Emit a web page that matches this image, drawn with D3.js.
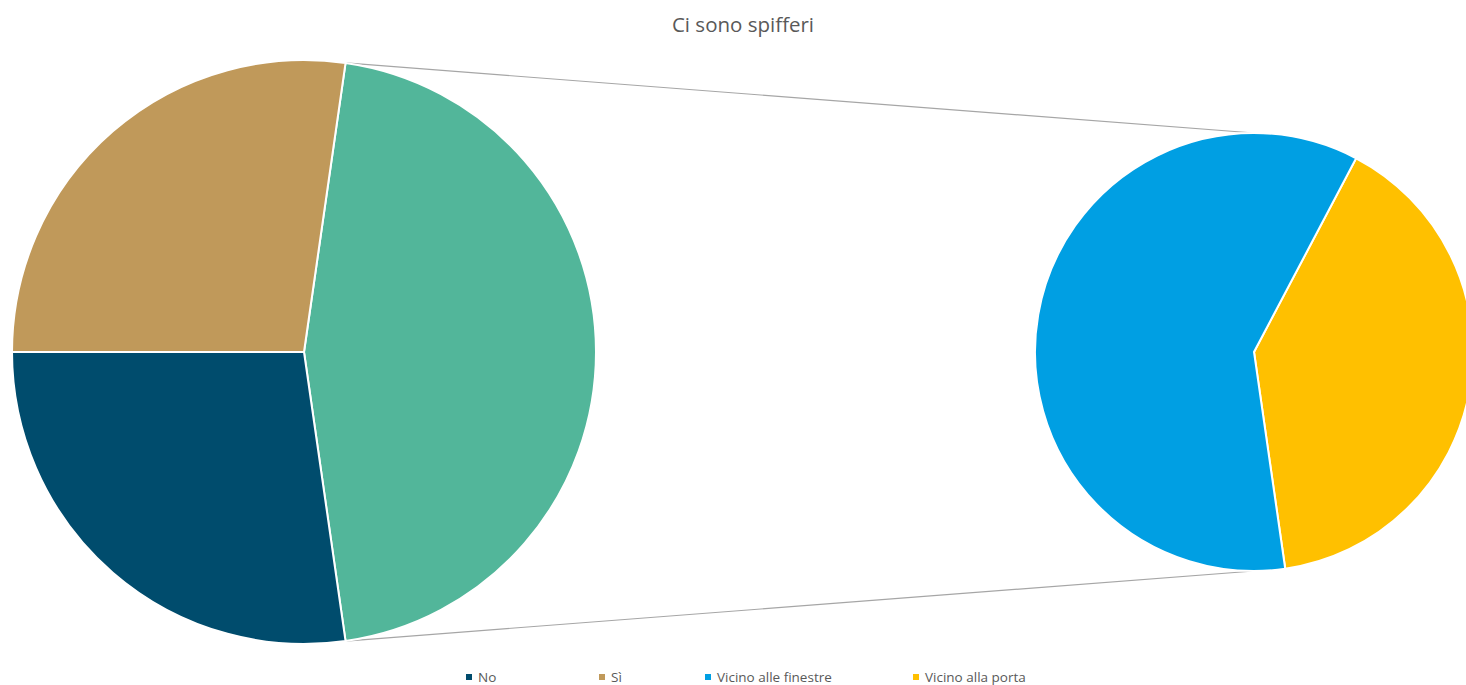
<!DOCTYPE html>
<html>
<head>
<meta charset="utf-8">
<script src="https://cdn.jsdelivr.net/npm/d3@7"></script>
<style>
  body { margin: 0; background: #fff; }
  svg { display: block; }
</style>
</head>
<body>
<div id="chart"></div>
<script>
const mainLabels = ['Altro', 'No', 'Sì']
const mainValues = [5, 3, 3]
const subLabels = ['Vicino alla porta', 'Vicino alle finestre']
const subValues = [2, 3]
const legendLabels = ['No', 'Sì', 'Vicino alle finestre', 'Vicino alla porta']

const colors = {
  'Altro': '#52b69a',
  'No': '#004c6d',
  'Sì': '#c0995a',
  'Vicino alle finestre': '#009fe3',
  'Vicino alla porta': '#ffc000'
}

const width = 1466
const height = 685

const svg = d3.select('#chart').append('svg')
  .attr('width', width)
  .attr('height', height)

// title
svg.append('text')
  .attr('x', 743)
  .attr('y', 32)
  .attr('text-anchor', 'middle')
  .style('font-family', 'Open Sans, sans-serif')
  .style('font-size', '20.5px')
  .style('fill', '#595959')
  .text('Ci sono spifferi')

// main pie: "Altro" slice centred on the right
const main = {cx: 304, cy: 352, r: 292}
const otherSpan = mainValues[0] / d3.sum(mainValues) * 2 * Math.PI
const mainStart = Math.PI / 2 - otherSpan / 2
const mainPie = d3.pie().sort(null)
  .startAngle(mainStart)
  .endAngle(mainStart + 2 * Math.PI)
const mainArcs = mainPie(mainValues)
const mainArc = d3.arc().innerRadius(0).outerRadius(main.r)

// second pie
const sub = {cx: 1254, cy: 352, r: 219}
const subStart = 27.8 * Math.PI / 180
const subPie = d3.pie().sort(null)
  .startAngle(subStart)
  .endAngle(subStart + 2 * Math.PI)
const subArcs = subPie(subValues)
const subArc = d3.arc().innerRadius(0).outerRadius(sub.r)

// connector lines
const pt = (c, a) => [c.cx + c.r * Math.sin(a), c.cy - c.r * Math.cos(a)]
const other = mainArcs[0]
const lines = [
  [pt(main, other.startAngle), [sub.cx, sub.cy - sub.r]],
  [pt(main, other.endAngle), [sub.cx, sub.cy + sub.r]]
]
svg.selectAll('.connector')
  .data(lines)
  .enter()
  .append('line')
  .attr('class', 'connector')
  .attr('x1', d => d[0][0])
  .attr('y1', d => d[0][1])
  .attr('x2', d => d[1][0])
  .attr('y2', d => d[1][1])
  .style('stroke', '#a6a6a6')
  .style('stroke-width', 1.2)

svg.append('g')
  .attr('transform', `translate(${main.cx},${main.cy})`)
  .selectAll('path')
  .data(mainArcs)
  .enter()
  .append('path')
  .attr('d', mainArc)
  .style('fill', (d, i) => colors[mainLabels[i]])
  .style('stroke', '#fff')
  .style('stroke-width', 2)

svg.append('g')
  .attr('transform', `translate(${sub.cx},${sub.cy})`)
  .selectAll('path')
  .data(subArcs)
  .enter()
  .append('path')
  .attr('d', subArc)
  .style('fill', (d, i) => colors[subLabels[i]])
  .style('stroke', '#fff')
  .style('stroke-width', 2)

// legend
const legendX = [466, 599, 705, 913]
const legend = svg.selectAll('.legend')
  .data(legendLabels)
  .enter()
  .append('g')
  .attr('class', 'legend')
  .attr('transform', (d, i) => `translate(${legendX[i]},677)`)
legend.append('rect')
  .attr('x', 0)
  .attr('y', -3)
  .attr('width', 6)
  .attr('height', 6)
  .style('fill', d => colors[d])
legend.append('text')
  .attr('x', 12)
  .attr('y', 5)
  .style('font-family', 'Open Sans, sans-serif')
  .style('font-size', '13.5px')
  .style('fill', '#595959')
  .text(d => d)
</script>
</body>
</html>
